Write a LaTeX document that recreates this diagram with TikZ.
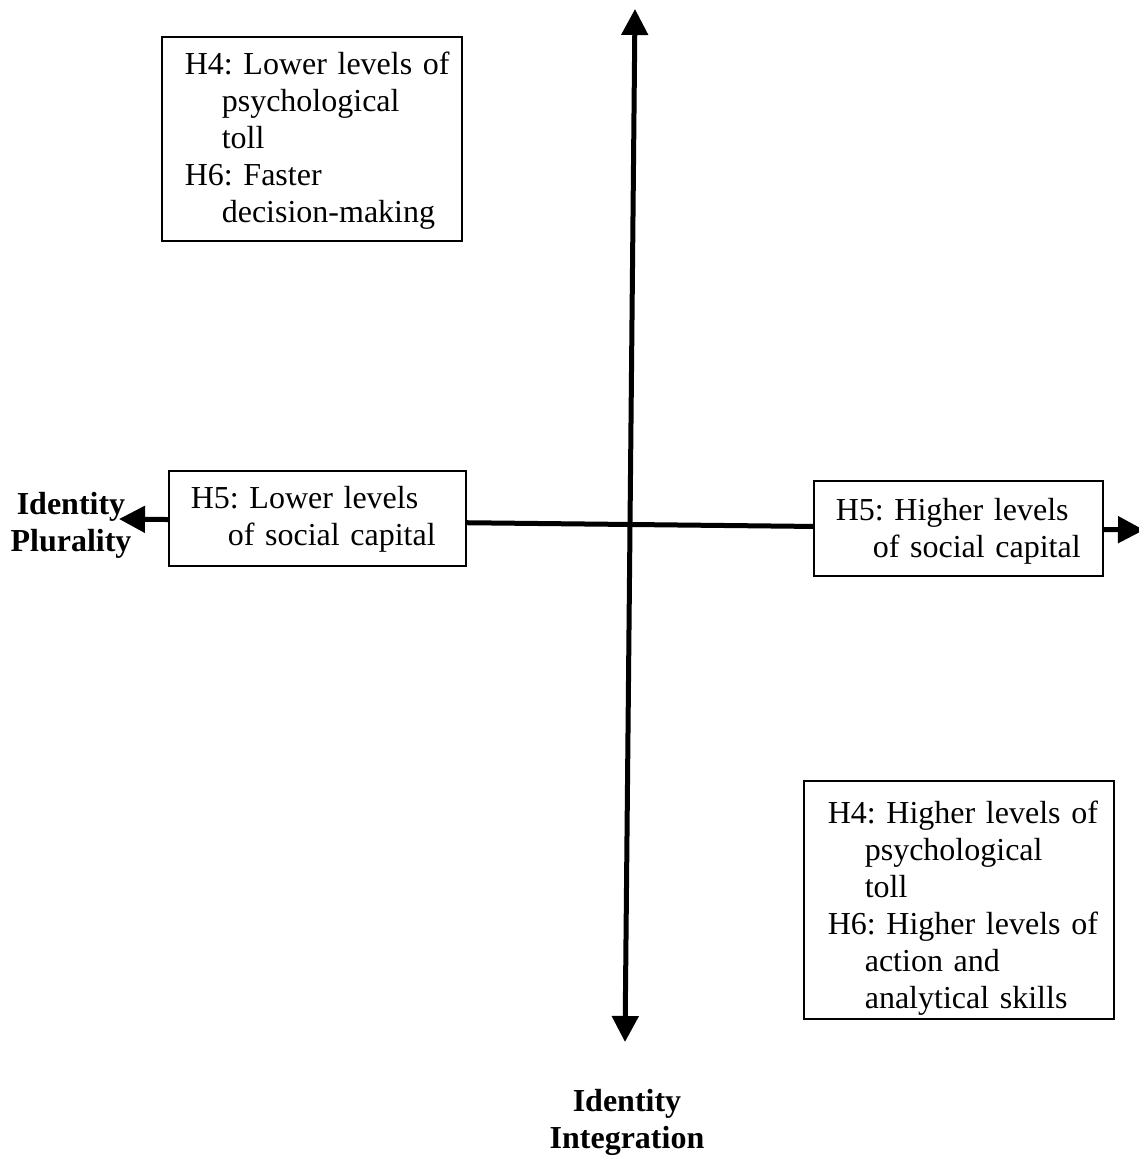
\documentclass[tikz,border=0pt]{standalone}
\usepackage{fontspec}
\setmainfont{Liberation Serif}
\usetikzlibrary{arrows.meta}
\newcommand\hypfont{\fontsize{32}{37}\selectfont\spaceskip=0.25em\relax}
\begin{document}
\frenchspacing
\begin{tikzpicture}[x=1pt,y=-1pt,
  axis/.style={line width=5pt,
    {Triangle[length=26pt,width=26pt]}-{Triangle[length=26pt,width=26pt]}},
  hyp/.style={draw, line width=1.6pt, fill=white, inner sep=0pt,
    align=left, anchor=north west, font=\hypfont},
  lab/.style={inner sep=0pt, align=center, anchor=north, text height=0pt,
    text width=200pt, font=\fontsize{32}{37}\selectfont\bfseries}]
\useasboundingbox (0,0) rectangle (1138,1158);

% axis end points
\coordinate (pl) at (119,519);
\coordinate (pr) at (1144,530);
\coordinate (pt) at (635,9);
\coordinate (pb) at (625,1042);

\draw[axis] (pt) -- (pb);
\draw[axis] (pl) -- (pr);

% hypothesis boxes
\node[hyp, text width=300pt, text height=38pt, text depth=166pt] (tl) at (161,36)
  {\leftskip=23pt H4: Lower levels of\\\hspace*{37pt}psychological\\\hspace*{37pt}toll\\H6: Faster\\\hspace*{37pt}decision-making\par};
\node[hyp, text width=297pt, text height=38pt, text depth=57pt] (ml) at (168,470)
  {\leftskip=22pt H5: Lower levels\\\hspace*{37pt}of social capital\par};
\node[hyp, text width=289pt, text height=40pt, text depth=55pt] (mr) at (813,480)
  {\leftskip=22pt H5: Higher levels\\\hspace*{37pt}of social capital\par};
\node[hyp, text width=310pt, text height=43pt, text depth=195pt] (br) at (803,780)
  {\leftskip=24pt H4: Higher levels of\\\hspace*{37pt}psychological\\\hspace*{37pt}toll\\H6: Higher levels of\\\hspace*{37pt}action and\\\hspace*{37pt}analytical skills\par};

% axis labels
\node[lab] (plur) at (71,514) {Identity\\Plurality};
\node[lab] (integ) at (627,1111) {Identity\\Integration};
\end{tikzpicture}
\end{document}
